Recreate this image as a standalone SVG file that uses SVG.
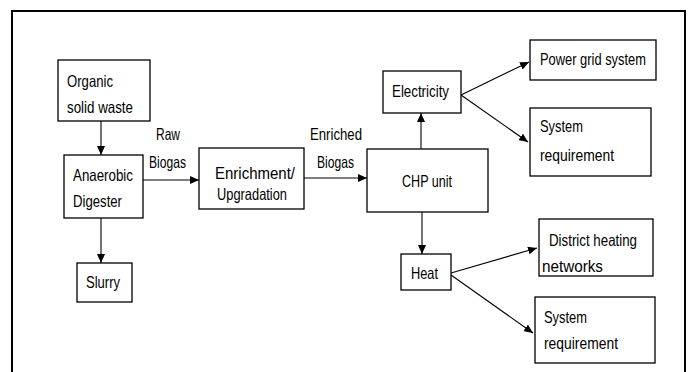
<svg xmlns="http://www.w3.org/2000/svg" width="693" height="372" viewBox="0 0 693 372">
<style>
.box{fill:#fff;stroke:#000;stroke-width:1.3}
.t{font-family:"Liberation Sans",Arial,sans-serif;font-size:16.5px;fill:#000}
.c{stroke:#000;stroke-width:1.1;fill:none;marker-end:url(#ah)}
</style>
<defs>
<marker id="ah" markerUnits="userSpaceOnUse" markerWidth="10" markerHeight="8" refX="9" refY="4" orient="auto">
<path d="M0,0 L9,4 L0,8 Z" fill="#000"/>
</marker>
</defs>
<rect x="12" y="11" width="673" height="372" fill="#fff" stroke="#000" stroke-width="2"/>
<g id="connectors">
<line class="c" x1="101" y1="121" x2="101" y2="155"/>
<line class="c" x1="101" y1="218" x2="101" y2="263"/>
<line class="c" x1="143" y1="180" x2="199" y2="180"/>
<line class="c" x1="304" y1="178" x2="367" y2="178"/>
<line class="c" x1="421" y1="149" x2="421" y2="113"/>
<line class="c" x1="461" y1="95" x2="529" y2="62"/>
<line class="c" x1="461" y1="95" x2="528" y2="142"/>
<line class="c" x1="422" y1="212" x2="422" y2="254"/>
<line class="c" x1="451" y1="273" x2="537" y2="248"/>
<line class="c" x1="451" y1="275" x2="533" y2="333"/>
</g>
<g id="organic">
<rect class="box" x="58" y="60" width="92" height="61"/>
<text class="t" x="67" y="87" textLength="46" lengthAdjust="spacingAndGlyphs">Organic</text>
<text class="t" x="67" y="113" textLength="66" lengthAdjust="spacingAndGlyphs">solid waste</text>
</g>
<g id="digester">
<rect class="box" x="64" y="155" width="79" height="63"/>
<text class="t" x="73" y="181" textLength="60" lengthAdjust="spacingAndGlyphs">Anaerobic</text>
<text class="t" x="73" y="207" textLength="49" lengthAdjust="spacingAndGlyphs">Digester</text>
</g>
<g id="slurry">
<rect class="box" x="77" y="263" width="55" height="39"/>
<text class="t" x="86" y="288" textLength="34" lengthAdjust="spacingAndGlyphs">Slurry</text>
</g>
<g id="raw-label">
<text class="t" x="156" y="140" textLength="24" lengthAdjust="spacingAndGlyphs">Raw</text>
<text class="t" x="149" y="168" textLength="37" lengthAdjust="spacingAndGlyphs">Biogas</text>
</g>
<g id="enrichment">
<rect class="box" x="199" y="148" width="105" height="61"/>
<text class="t" x="215" y="179" textLength="80" lengthAdjust="spacingAndGlyphs">Enrichment/</text>
<text class="t" x="217" y="200" textLength="70" lengthAdjust="spacingAndGlyphs">Upgradation</text>
</g>
<g id="enriched-label">
<text class="t" x="310" y="140" textLength="52" lengthAdjust="spacingAndGlyphs">Enriched</text>
<text class="t" x="317" y="168" textLength="37" lengthAdjust="spacingAndGlyphs">Biogas</text>
</g>
<g id="chp">
<rect class="box" x="367" y="149" width="121" height="63"/>
<text class="t" x="402" y="187" textLength="50" lengthAdjust="spacingAndGlyphs">CHP unit</text>
</g>
<g id="electricity">
<rect class="box" x="383" y="71" width="78" height="42"/>
<text class="t" x="392" y="97" textLength="57" lengthAdjust="spacingAndGlyphs">Electricity</text>
</g>
<g id="powergrid">
<rect class="box" x="530" y="40" width="126" height="40"/>
<text class="t" x="540" y="65" textLength="106" lengthAdjust="spacingAndGlyphs">Power grid system</text>
</g>
<g id="sysreq1">
<rect class="box" x="530" y="108" width="121" height="68"/>
<text class="t" x="540" y="132" textLength="43" lengthAdjust="spacingAndGlyphs">System</text>
<text class="t" x="540" y="161" textLength="74" lengthAdjust="spacingAndGlyphs">requirement</text>
</g>
<g id="heat">
<rect class="box" x="401" y="254" width="50" height="36"/>
<text class="t" x="411" y="279" textLength="27" lengthAdjust="spacingAndGlyphs">Heat</text>
</g>
<g id="district">
<rect class="box" x="539" y="219" width="114" height="57"/>
<text class="t" x="549" y="246" textLength="88" lengthAdjust="spacingAndGlyphs">District heating</text>
<text class="t" x="542" y="272" textLength="61" lengthAdjust="spacingAndGlyphs">networks</text>
</g>
<g id="sysreq2">
<rect class="box" x="535" y="297" width="120" height="66"/>
<text class="t" x="544" y="323" textLength="43" lengthAdjust="spacingAndGlyphs">System</text>
<text class="t" x="544" y="349" textLength="74" lengthAdjust="spacingAndGlyphs">requirement</text>
</g>
</svg>
